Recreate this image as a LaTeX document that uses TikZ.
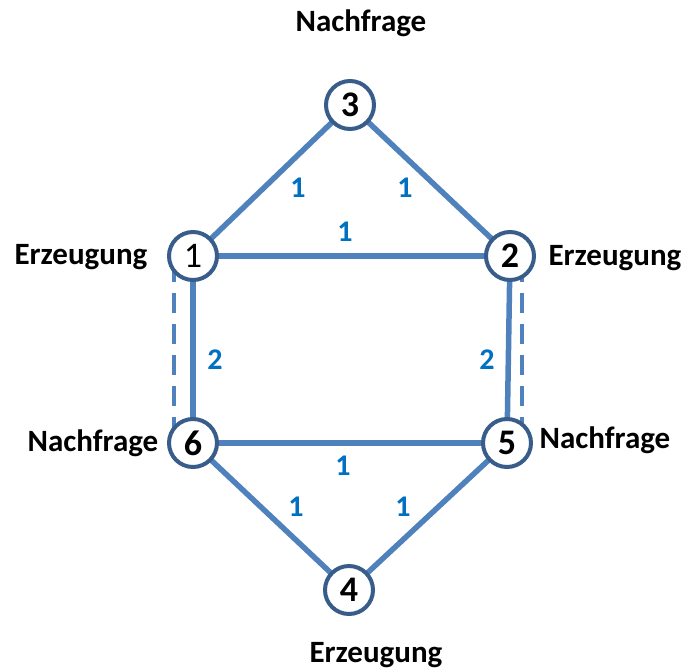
\documentclass[tikz,border=0pt]{standalone}
\usepackage{fontspec}
\setmainfont{Carlito}
\definecolor{edgeblue}{HTML}{4F81BD}
\definecolor{ringblue}{HTML}{385D8A}
\definecolor{labblue}{HTML}{0070C0}
\begin{document}
\begin{tikzpicture}[x=1pt,y=-1pt,
  vertex/.style={circle,draw=ringblue,line width=4pt,fill=white,minimum size=48pt,inner sep=0pt,font=\fontsize{36}{36}\selectfont\bfseries},
  edge/.style={draw=edgeblue,line width=5.5pt},
  dashedge/.style={draw=edgeblue,line width=4pt,dash pattern=on 20pt off 11pt},
  elab/.style={text=labblue,font=\fontsize{30}{30}\selectfont\bfseries},
  tlab/.style={text=black,font=\fontsize{31}{31}\selectfont\bfseries}]
\useasboundingbox (0,0) rectangle (683,670);
% node coordinates
\coordinate (p1) at (193,256);
\coordinate (p2) at (510,256);
\coordinate (p3) at (350,105);
\coordinate (p4) at (349,590);
\coordinate (p5) at (507,443);
\coordinate (p6) at (193,443);
% dashed parallels
\coordinate (d1a) at (174,262);
\coordinate (d1b) at (174,428);
\coordinate (d2a) at (522,262);
\coordinate (d2b) at (522,428);
\draw[dashedge] (d1a) -- (d1b);
\draw[dashedge] (d2a) -- (d2b);
% edges
\draw[edge] (p3) -- (p1);
\draw[edge] (p3) -- (p2);
\draw[edge] (p1) -- (p2);
\draw[edge] (p1) -- (p6);
\draw[edge] (p2) -- (p5);
\draw[edge] (p6) -- (p5);
\draw[edge] (p6) -- (p4);
\draw[edge] (p5) -- (p4);
% vertices
\node[vertex] (n1) at (p1) {\mdseries 1};
\node[vertex] (n2) at (p2) {2};
\node[vertex] (n3) at (p3) {3};
\node[vertex] (n4) at (p4) {4};
\node[vertex] (n5) at (p5) {5};
\node[vertex] (n6) at (p6) {6};
% edge labels
\node[elab] (l31) at (298,188) {1};
\node[elab] (l32) at (405,188) {1};
\node[elab] (l12) at (345,232) {1};
\node[elab] (l65) at (343,466) {1};
\node[elab] (l64) at (296,507) {1};
\node[elab] (l54) at (403,507) {1};
\node[elab] (l16) at (215,360) {2};
\node[elab] (l25) at (487,360) {2};
% text labels
\node[tlab] (t3) at (361,23) {Nachfrage};
\node[tlab] (t1) at (81,257) {Erzeugung};
\node[tlab] (t2) at (615,258) {Erzeugung};
\node[tlab] (t6) at (93,443) {Nachfrage};
\node[tlab] (t5) at (605,440) {Nachfrage};
\node[tlab] (t4) at (376,655) {Erzeugung};
\end{tikzpicture}
\end{document}
